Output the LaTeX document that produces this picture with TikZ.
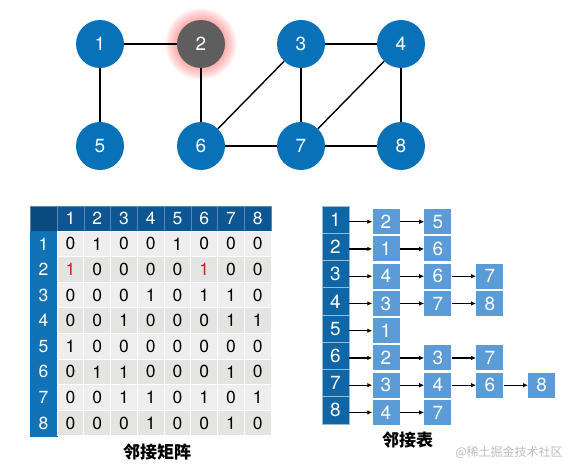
\documentclass[tikz,border=0pt]{standalone}
\usepackage{fontspec}
\setmainfont{TeX Gyre Heros}
\newfontfamily\cjk{Noto Sans CJK SC}
\usetikzlibrary{arrows.meta}
\definecolor{nodeblue}{HTML}{0872B8}
\definecolor{nodegray}{HTML}{5E5E5E}
\definecolor{headdark}{HTML}{0D5693}
\definecolor{cornerdark}{HTML}{0A4A7E}
\definecolor{headblue}{HTML}{1272B6}
\definecolor{listdark}{HTML}{0E66A6}
\definecolor{itemblue}{HTML}{5B9BD6}
\definecolor{rowc0}{HTML}{E4E4E2}
\definecolor{rowc1}{HTML}{EEEEEE}
\definecolor{mred}{HTML}{C0292B}
\definecolor{markgray}{HTML}{BDBDBD}

\begin{document}
\begin{tikzpicture}[x=1pt,y=-1pt,
   vert/.style={circle,fill=nodeblue,minimum size=48pt,inner sep=0pt,
      text=white,font=\fontsize{19}{19}\selectfont},
   link/.style={line width=1.4pt},
   cell/.style={draw=white,line width=0.8pt,minimum width=26.75pt,
      minimum height=25.6pt,inner sep=0pt,font=\fontsize{17.5}{17.5}\selectfont},
   hcell/.style={cell,fill=headdark,text=white,draw=headdark!70!white,
      line width=0.5pt},
   hl-2-1/.style={text=mred},hl-2-6/.style={text=mred},
   slot/.style={fill=listdark,draw=listdark!45!white,line width=0.8pt,
      minimum width=27pt,minimum height=27.25pt,inner sep=0pt,text=white,
      font=\fontsize{19}{19}\selectfont},
   item/.style={fill=itemblue,minimum width=27pt,minimum height=25pt,
      inner sep=0pt,text=white,font=\fontsize{19}{19}\selectfont},
   arr/.style={line width=1.1pt,-{Latex[length=5pt,width=4.5pt]}},
   caption/.style={font=\cjk\bfseries\fontsize{17}{17}\selectfont}]
\useasboundingbox (0,0) rectangle (577,471);

% graph
\coordinate (g2) at (201,44);
\foreach \g in {1,...,12}
   \fill[red!75,opacity=0.045] (g2) circle ({24+\g});
\node[vert] (n1) at (100,44) {1};
\node[vert,fill=nodegray] (n2) at (g2) {2};
\node[vert] (n3) at (301,44) {3};
\node[vert] (n4) at (401,44) {4};
\node[vert] (n5) at (100,146) {5};
\node[vert] (n6) at (201,146) {6};
\node[vert] (n7) at (301,146) {7};
\node[vert] (n8) at (401,146) {8};
\foreach \a/\b in {1/2,1/5,2/6,3/4,3/6,3/7,4/7,4/8,6/7,7/8}
   \draw[link] (n\a) -- (n\b);

% adjacency matrix
\node[hcell,fill=cornerdark,minimum width=27pt,minimum height=25pt]
   (corner) at (43.5,218.5) {};
\foreach \c in {1,...,8}
   \node[hcell,minimum height=25pt] (hc-\c) at ({57+26.75*(\c-0.5)},218.5) {\c};
\foreach \r/\vals [evaluate=\r as \p using {int(mod(\r,2))}] in
   {1/{0,1,0,0,1,0,0,0},2/{1,0,0,0,0,1,0,0},3/{0,0,0,1,0,1,1,0},
    4/{0,0,1,0,0,0,1,1},5/{1,0,0,0,0,0,0,0},6/{0,1,1,0,0,0,1,0},
    7/{0,0,1,1,0,1,0,1},8/{0,0,0,1,0,0,1,0}} {
   \node[hcell,fill=headblue,draw=headblue,minimum width=27pt]
      (hr-\r) at (43.5,{231+25.6*(\r-0.5)}) {\r};
   \foreach \v [count=\c] in \vals
      \node[cell,fill=rowc\p,hl-\r-\c/.try]
         (m-\r-\c) at ({57+26.75*(\c-0.5)},{231+25.6*(\r-0.5)}) {\v};
}
\node[caption] (mlabel) at (157,452) {邻接矩阵};

% adjacency list
\foreach \i/\lst in {1/{2,5},2/{1,6},3/{4,6,7},4/{3,7,8},5/{1},
      6/{2,3,7},7/{3,4,6,8},8/{4,7}} {
   \node[slot] (h\i) at (335.5,{206+27.25*(\i-0.5)}) {\i};
   \foreach \v [count=\k,remember=\k as \pk (initially 0)] in \lst {
      \node[item] (a\i-\k) at ({386+51.9*(\k-1)},{221.7+27.25*(\i-1)}) {\v};
      \ifnum\k>1 \draw[arr] (a\i-\pk) -- (a\i-\k); \fi
   }
   \draw[arr] (h\i.east |- a\i-1.west) -- (a\i-1.west);
}
\node[caption] (llabel) at (407.5,440) {邻接表};
\node[font=\cjk\fontsize{12}{12}\selectfont,text=markgray]
   (mark) at (509,452) {@稀土掘金技术社区};
\end{tikzpicture}
\end{document}
